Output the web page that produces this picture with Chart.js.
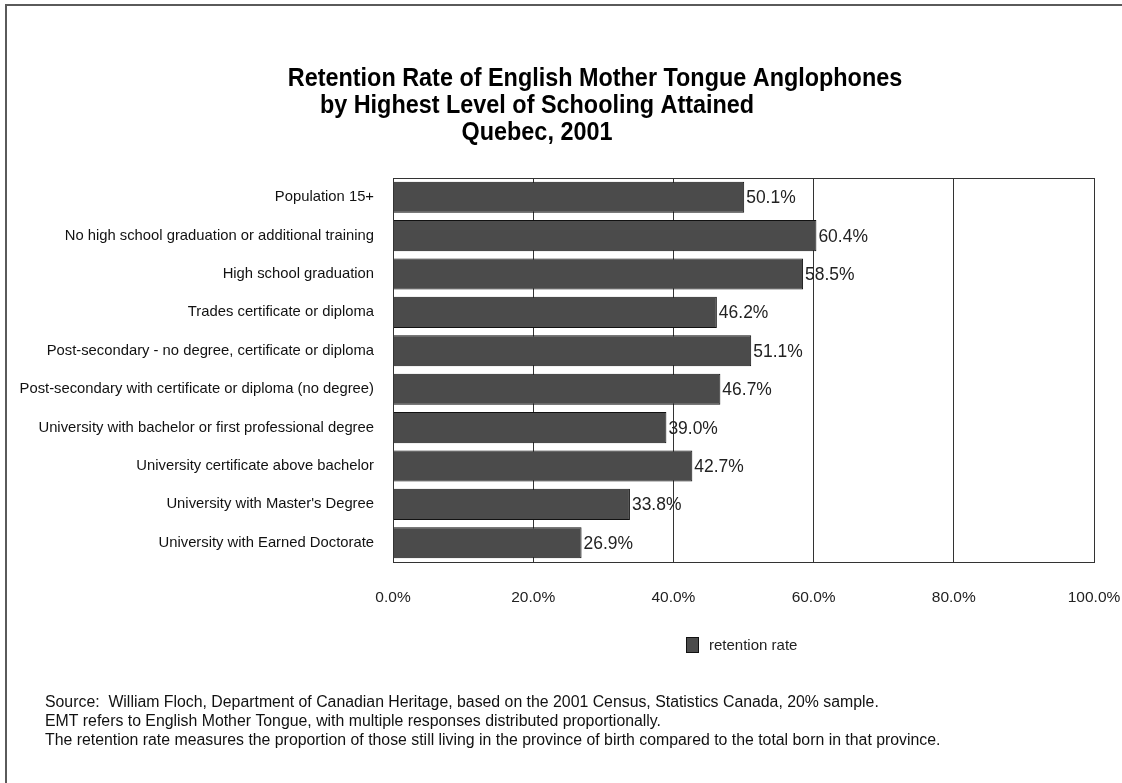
<!DOCTYPE html>
<html>
<head>
<meta charset="utf-8">
<script src="https://cdn.jsdelivr.net/npm/chart.js@4"></script>
<style>
html,body{margin:0;padding:0;background:#fff;}
#wrap{width:1122px;height:783px;position:relative;}
</style>
</head>
<body>
<div id="wrap"><canvas id="c" width="1122" height="783"></canvas></div>
<script>
const categories = [
  "Population 15+",
  "No high school graduation or additional training",
  "High school graduation",
  "Trades certificate or diploma",
  "Post-secondary - no degree, certificate or diploma",
  "Post-secondary with certificate or diploma (no degree)",
  "University with bachelor or first professional degree",
  "University certificate above bachelor",
  "University with Master's Degree",
  "University with Earned Doctorate"
];
const retentionRate = [50.1, 60.4, 58.5, 46.2, 51.1, 46.7, 39.0, 42.7, 33.8, 26.9];
const seriesName = "retention rate";
const xTicks = [0, 20, 40, 60, 80, 100];
const titleLines = [
  "Retention Rate of English Mother Tongue Anglophones",
  "by Highest Level of Schooling Attained",
  "Quebec, 2001"
];
const notes = [
  "Source:  William Floch, Department of Canadian Heritage, based on the 2001 Census, Statistics Canada, 20% sample.",
  "EMT refers to English Mother Tongue, with multiple responses distributed proportionally.",
  "The retention rate measures the proportion of those still living in the province of birth compared to the total born in that province."
];

const FONT = '"Liberation Sans", Arial, sans-serif';
const BAR = '#4b4b4b';

function condensedText(ctx, text, x, y, sx) {
  ctx.save();
  ctx.translate(x, y);
  ctx.scale(sx, 1);
  ctx.fillText(text, 0, 0);
  ctx.restore();
}

const decor = {
  id: 'decor',
  beforeDraw(chart) {
    const ctx = chart.ctx;
    ctx.save();
    ctx.fillStyle = '#fff';
    ctx.fillRect(0, 0, chart.width, chart.height);
    ctx.strokeStyle = '#5a5a5a';
    ctx.lineWidth = 2;
    ctx.beginPath();
    ctx.moveTo(6, 783);
    ctx.lineTo(6, 5);
    ctx.lineTo(1122, 5);
    ctx.stroke();
    ctx.restore();
  },
  afterDraw(chart) {
    const ctx = chart.ctx;
    const ca = chart.chartArea;
    ctx.save();
    ctx.strokeStyle = '#333';
    ctx.lineWidth = 1;
    ctx.strokeRect(Math.round(ca.left) + 0.5, Math.round(ca.top) + 0.5,
                   Math.round(ca.right - ca.left), Math.round(ca.bottom - ca.top));
    // title
    ctx.fillStyle = '#000';
    ctx.textAlign = 'center';
    ctx.textBaseline = 'middle';
    ctx.font = 'bold 26px ' + FONT;
    const tx = [595, 537, 537];
    const ty = [79, 106, 133];
    titleLines.forEach((t, i) => condensedText(ctx, t, tx[i], ty[i], 0.9));
    // value labels
    const meta = chart.getDatasetMeta(0);
    ctx.font = '18px ' + FONT;
    ctx.textAlign = 'left';
    ctx.fillStyle = '#222';
    meta.data.forEach((bar, i) => {
      condensedText(ctx, retentionRate[i].toFixed(1) + '%', bar.x + 2, bar.y + 1, 0.97);
    });
    // legend
    ctx.fillStyle = BAR;
    ctx.strokeStyle = '#111';
    ctx.fillRect(686.5, 637.5, 12, 15);
    ctx.strokeRect(686.5, 637.5, 12, 15);
    ctx.fillStyle = '#222';
    ctx.font = '15px ' + FONT;
    ctx.fillText(seriesName, 709, 646);
    // notes
    ctx.font = '16px ' + FONT;
    ctx.fillStyle = '#111';
    const ny = [703, 722, 741];
    notes.forEach((n, i) => condensedText(ctx, n, 45, ny[i], 0.99));
    ctx.restore();
  }
};

new Chart(document.getElementById('c'), {
  type: 'bar',
  data: {
    labels: categories,
    datasets: [{
      label: seriesName,
      data: retentionRate,
      backgroundColor: BAR,
      borderColor: '#111',
      borderWidth: 1,
      barPercentage: 0.81,
      categoryPercentage: 1.0
    }]
  },
  options: {
    indexAxis: 'y',
    responsive: false,
    animation: false,
    devicePixelRatio: 1,
    layout: { padding: { top: 178, right: 28, left: 0, bottom: 0 } },
    plugins: {
      legend: { display: false },
      title: { display: false },
      tooltip: { enabled: false }
    },
    scales: {
      x: {
        min: 0, max: 100,
        afterBuildTicks(scale) { scale.ticks = xTicks.map(v => ({ value: v })); },
        afterFit(scale) { scale.height = 221; scale.paddingLeft = 0; scale.paddingRight = 0; },
        grid: { color: '#333', lineWidth: 1, drawTicks: false },
        border: { color: '#333' },
        ticks: {
          padding: 26,
          color: '#222',
          font: { family: FONT, size: 15.5 },
          callback: v => v.toFixed(1) + '%',
          maxRotation: 0
        }
      },
      y: {
        afterFit(scale) { scale.width = 393; scale.paddingTop = 0; scale.paddingBottom = 0; },
        grid: { display: false, drawTicks: false },
        border: { color: '#333' },
        ticks: {
          padding: 19,
          color: '#111',
          font: { family: FONT, size: 14.8 },
          autoSkip: false
        }
      }
    }
  },
  plugins: [decor]
});
</script>
</body>
</html>
